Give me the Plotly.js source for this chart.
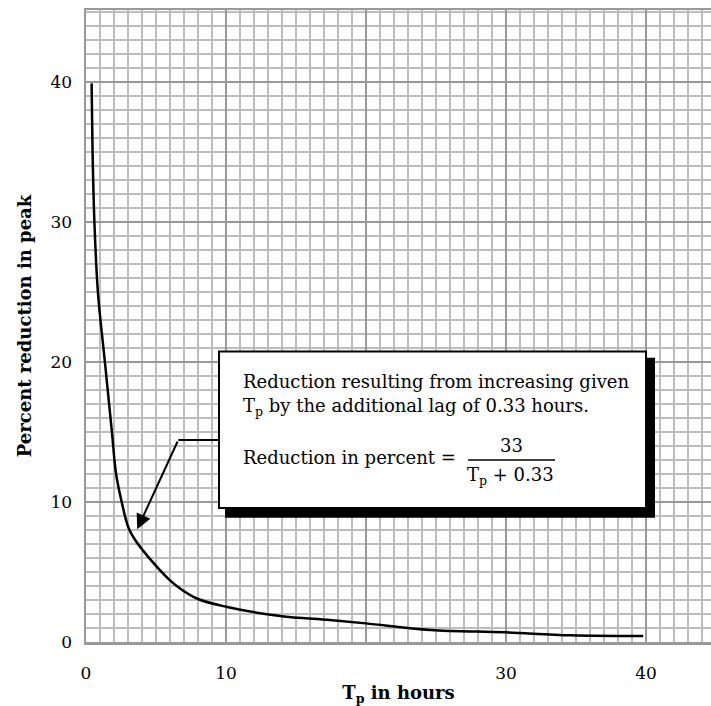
<!DOCTYPE html>
<html>
<head>
<meta charset="utf-8">
<script src="https://cdn.plot.ly/plotly-3.0.1.min.js"></script>
<style>html,body{margin:0;padding:0;background:#fff;}#chart{width:711px;height:706px;}</style>
</head>
<body>
<div id="chart"></div>
<script>
// Curve
const tpHours = [0.40, 0.47, 0.60, 0.85, 1.35, 1.85, 2.15, 2.55, 3.02, 3.50, 4.43, 6.00, 6.71, 8.00, 10.0, 13.86, 17.4, 20.0, 24.6, 29.9, 34.6, 39.8];
const reductionPct = [39.9, 35.0, 30.0, 25.0, 20.0, 15.0, 12.0, 10.0, 8.2, 7.3, 6.1, 4.4, 3.83, 3.07, 2.52, 1.86, 1.57, 1.33, 0.86, 0.69, 0.48, 0.43];

const xTicks = [0, 10, 20, 30, 40];
const xTickText = ['0', '10', '', '30', '40'];
const yTicks = [0, 10, 20, 30, 40];
const yTickText = ['0', '10', '20', '30', '40'];

const xTitle = 'T<sub>p</sub> in hours';
const yTitle = 'Percent reduction in peak';
const noteLine1 = 'Reduction resulting from increasing given';
const noteLine2 = 'T<sub>p</sub> by the additional lag of 0.33 hours.';
const noteLine3 = 'Reduction in percent =';
const fracNum = '33';
const fracDen = 'T<sub>p</sub> + 0.33';

const serif = 'DejaVu Serif, Liberation Serif, serif';
const major = '#999999';
const minor = '#bdbdbd';

const trace = {
  x: tpHours, y: reductionPct, type: 'scatter', mode: 'lines',
  line: {color: '#000', width: 2.5, shape: 'spline', smoothing: 1},
  hoverinfo: 'skip'
};

const txt = (s, x, y, xa, size) => ({
  text: s, x: x, y: y, xref: 'x', yref: 'y', xanchor: xa, yanchor: 'middle',
  showarrow: false, font: {family: serif, size: size || 18, color: '#000'}
});

const layout = {
  width: 711, height: 706,
  margin: {l: 86, r: 0, t: 10, b: 64},
  paper_bgcolor: '#fff', plot_bgcolor: '#fff',
  showlegend: false,
  font: {family: serif, color: '#000'},
  xaxis: {
    range: [0, 44.64], tickmode: 'array', tickvals: xTicks, ticktext: xTickText,
    showgrid: true, gridcolor: major, gridwidth: 2.5,
    minor: {tickmode: 'linear', tick0: 0, dtick: 1, showgrid: true, gridcolor: minor, gridwidth: 1.5, ticks: ''},
    zeroline: false, showline: true, mirror: true, linecolor: major, linewidth: 2.5,
    ticks: '', ticklabelstandoff: 14,
    tickfont: {family: serif, size: 17, color: '#000'},
    title: {text: xTitle, font: {family: serif, size: 18, color: '#000', weight: 'bold'}, standoff: 8}
  },
  yaxis: {
    range: [0, 45.14], tickmode: 'array', tickvals: yTicks, ticktext: yTickText,
    showgrid: true, gridcolor: major, gridwidth: 2.5,
    minor: {tickmode: 'linear', tick0: 0, dtick: 1, showgrid: true, gridcolor: minor, gridwidth: 1.5, ticks: ''},
    zeroline: false, showline: true, mirror: true, linecolor: major, linewidth: 2.5,
    ticks: '', ticklabelstandoff: 8,
    tickfont: {family: serif, size: 17, color: '#000'},
    title: {text: yTitle, font: {family: serif, size: 18, color: '#000', weight: 'bold'}, standoff: 14}
  },
  shapes: [
    {type: 'rect', xref: 'x', yref: 'y', x0: 9.93, x1: 40.64, y0: 8.88, y1: 20.3, fillcolor: '#000', line: {width: 0}},
    {type: 'rect', xref: 'x', yref: 'y', x0: 9.5, x1: 40.0, y0: 9.57, y1: 20.74, fillcolor: '#fff', line: {color: '#000', width: 2}},
    {type: 'line', xref: 'x', yref: 'y', x0: 6.59, x1: 9.5, y0: 14.43, y1: 14.43, line: {color: '#000', width: 2}},
    {type: 'line', xref: 'x', yref: 'y', x0: 27.29, x1: 33.5, y0: 13.0, y1: 13.0, line: {color: '#000', width: 1.5}}
  ],
  annotations: [
    {x: 3.66, y: 8.05, ax: 6.59, ay: 14.43, xref: 'x', yref: 'y', axref: 'x', ayref: 'y',
     text: '', showarrow: true, arrowhead: 2, arrowsize: 1.5, arrowwidth: 2, arrowcolor: '#000', standoff: 0},
    txt(noteLine1, 11.05, 18.64, 'left'),
    txt(noteLine2, 11.05, 16.79, 'left'),
    txt(noteLine3, 11.05, 13.21, 'left'),
    txt(fracNum, 30.41, 14.0, 'center'),
    txt(fracDen, 30.29, 11.86, 'center')
  ]
};

Plotly.newPlot('chart', [trace], layout, {displayModeBar: false, staticPlot: true});
</script>
</body>
</html>
